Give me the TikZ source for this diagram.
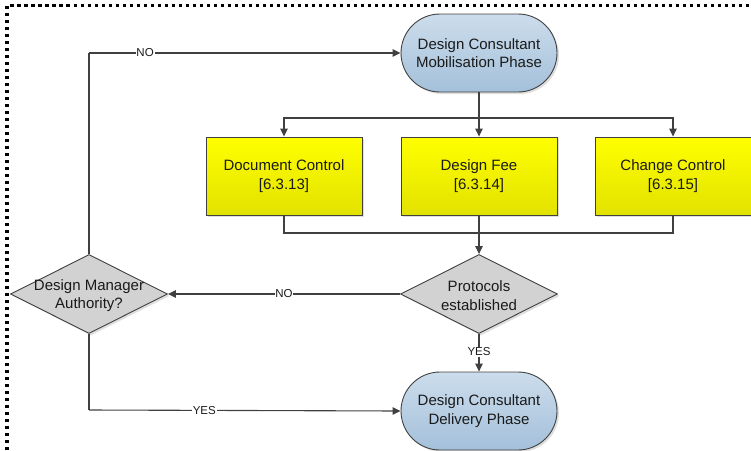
\documentclass[tikz,border=0pt]{standalone}
\usepackage{fontspec}
\setmainfont{Liberation Sans}
\usetikzlibrary{arrows.meta,shapes.geometric,shadows}
\definecolor{linegray}{HTML}{404040}
\definecolor{txt}{HTML}{1A1A1A}
\definecolor{termtop}{HTML}{CCDDEC}
\definecolor{termbot}{HTML}{A4C0DA}
\definecolor{boxtop}{HTML}{FFFF00}
\definecolor{boxbot}{HTML}{E2E200}
\definecolor{diafill}{HTML}{D2D2D2}
\tikzset{
  base/.style={draw=linegray, line width=0.9pt, text=txt,
    font=\fontsize{15}{18.5}\selectfont, align=center,
    drop shadow={shadow xshift=2pt, shadow yshift=-2pt, opacity=0.25}},
  terminal/.style={base, rectangle, rounded corners=39pt,
    minimum width=156pt, minimum height=78pt, inner sep=0pt,
    top color=termtop, bottom color=termbot},
  taskbox/.style={base, rectangle, minimum width=156pt, minimum height=78pt,
    inner sep=0pt, top color=boxtop, bottom color=boxbot},
  decision/.style={base, diamond, minimum width=157pt, minimum height=79pt,
    inner sep=0pt, fill=diafill},
  dtext/.style={text=txt, font=\fontsize{15}{18.5}\selectfont, align=center},
  conn/.style={draw=linegray, line width=1.1pt},
  arr/.style={conn, -{Triangle[length=8pt,width=7.5pt]}},
  lbl/.style={fill=white, inner sep=0.8pt, text=txt,
    font=\fontsize{11.5}{13}\selectfont},
}
\begin{document}
\begin{tikzpicture}[x=1pt,y=-1pt]
\useasboundingbox (0,0) rectangle (751,450);
% dotted frame
\draw[line width=3.2pt, dash pattern=on 3.2pt off 3.8pt] (7,450) -- (7,5.5) -- (751,5.5);

% nodes
\node[terminal] (mob) at (479,53) {Design Consultant\\Mobilisation Phase};
\node[taskbox] (doc) at (284,176) {Document Control\\{[6.3.13]}};
\node[taskbox] (fee) at (479,176) {Design Fee\\{[6.3.14]}};
\node[taskbox] (chg) at (673,176) {Change Control\\{[6.3.15]}};
\node[decision] (prot) at (479,294) {};
\node[dtext] (prott) at ([yshift=-1.5pt]prot.center) {Protocols\\established};
\node[decision] (dm) at (89,294) {};
\node[dtext] (dmt) at ([yshift=-1.5pt]dm.center) {Design Manager\\Authority?};
\node[terminal] (del) at (479,411) {Design Consultant\\Delivery Phase};

% split from mobilisation
\coordinate (split) at (479,118);
\draw[conn] (mob.south) -- (split);
\draw[arr] (split) -| (doc.north);
\draw[arr] (split) -- (fee.north);
\draw[arr] (split) -| (chg.north);

% merge into protocols
\coordinate (merge) at (479,233);
\draw[conn] (doc.south) |- (merge);
\draw[conn] (chg.south) |- (merge);
\draw[conn] (fee.south) -- (merge);
\draw[arr] (merge) -- (prot.north);

% decisions
\draw[arr] (prot.west) -- node[lbl, pos=0.5] {NO} (dm.east);
\draw[arr] (prot.south) -- node[lbl, pos=0.48] {YES} (del.north);
\coordinate (up) at (89,53);
\coordinate (down) at (89,410);
\draw[conn] (dm.north) -- (up);
\draw[arr] (up) -- node[lbl, pos=0.18] {NO} (mob.west);
\draw[conn] (dm.south) -- (down);
\draw[arr] (down) -- node[lbl, pos=0.37] {YES} (del.west);
\end{tikzpicture}
\end{document}
